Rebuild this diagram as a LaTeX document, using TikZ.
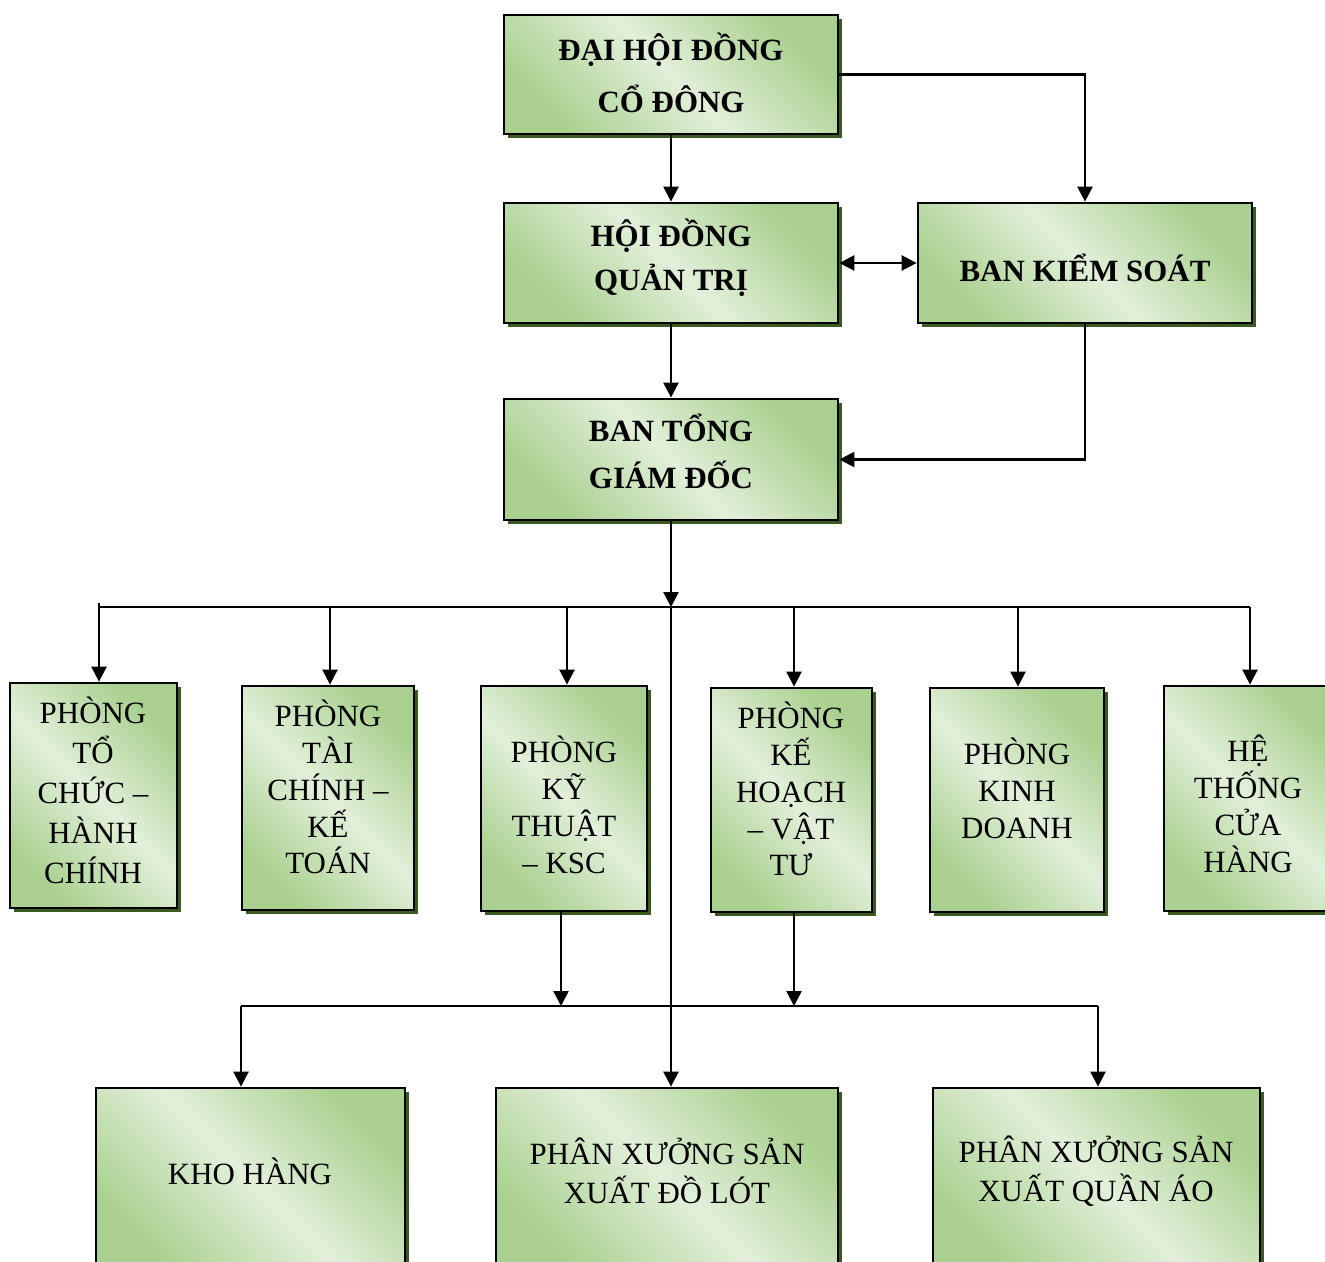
\documentclass[tikz,border=0pt]{standalone}
\usepackage{fontspec}
\setmainfont{Liberation Serif}
\usetikzlibrary{arrows.meta,shadows}
\definecolor{gdark}{HTML}{A9D08E}
\definecolor{glight}{HTML}{E2EFDA}
\definecolor{shgreen}{HTML}{3A5A22}
\tikzset{
  box/.style={rectangle, draw=black, line width=1.6pt, inner sep=0pt,
    top color=gdark, bottom color=gdark, middle color=glight, shading angle=-45,
    drop shadow={shadow xshift=0.08cm, shadow yshift=-0.08cm, fill=shgreen, opacity=1}},
  txt/.style={align=center, inner sep=0pt, font={\fontsize{17.6pt}{#1}\selectfont}},
  btxt/.style={align=center, inner sep=0pt, font={\fontsize{17.6pt}{#1}\selectfont\bfseries}},
  conn/.style={line width=0.9pt},
  arr/.style={line width=1.4pt, -{Triangle[length=0.3cm, width=0.3cm]}},
  arrb/.style={line width=1.4pt, {Triangle[length=0.3cm, width=0.3cm]}-{Triangle[length=0.3cm, width=0.3cm]}}
}
\begin{document}
\begin{tikzpicture}[x=0.02cm, y=-0.02cm]
\useasboundingbox (0,0) rectangle (1325,1261);
\clip (0,0) rectangle (1325,1261);
% top boxes
\node[box, minimum width=6.68cm, minimum height=2.38cm] (d1) at (671,74.5) {};
\node[box, minimum width=6.68cm, minimum height=2.4cm] (d2) at (671,263) {};
\node[box, minimum width=6.68cm, minimum height=2.4cm] (d3) at (1085,263) {};
\node[box, minimum width=6.68cm, minimum height=2.42cm] (d4) at (671,459.5) {};
% department row
\node[box, minimum width=3.34cm, minimum height=4.5cm] (r1) at (93.5,795.5) {};
\node[box, minimum width=3.44cm, minimum height=4.48cm] (r2) at (328,798) {};
\node[box, minimum width=3.32cm, minimum height=4.5cm] (r3) at (564,798.5) {};
\node[box, minimum width=3.22cm, minimum height=4.48cm] (r4) at (791.5,800) {};
\node[box, minimum width=3.48cm, minimum height=4.48cm] (r5) at (1017,800) {};
\node[box, minimum width=3.4cm, minimum height=4.5cm] (r6) at (1249,798.5) {};
% bottom row
\node[box, minimum width=6.18cm, minimum height=3.64cm] (b1) at (250.5,1179) {};
\node[box, minimum width=6.84cm, minimum height=3.64cm] (b2) at (667,1179) {};
\node[box, minimum width=6.54cm, minimum height=3.64cm] (b3) at (1096.5,1179) {};
% texts
\node[btxt=30pt] (t1) at (671,73) {ĐẠI HỘI ĐỒNG\\CỔ ĐÔNG};
\node[btxt=25pt] (t2) at (671,258) {HỘI ĐỒNG\\QUẢN TRỊ};
\node[btxt=25pt] (t3) at (1085,268) {BAN KIỂM SOÁT};
\node[btxt=26.7pt] (t4) at (671,451) {BAN TỔNG\\GIÁM ĐỐC};
\node[txt=22.8pt] (u1) at (93,790) {PHÒNG\\TỔ\\CHỨC –\\HÀNH\\CHÍNH};
\node[txt=21pt] (u2) at (328,787) {PHÒNG\\TÀI\\CHÍNH –\\KẾ\\TOÁN};
\node[txt=21pt] (u3) at (564,805) {PHÒNG\\KỸ\\THUẬT\\– KSC};
\node[txt=21pt] (u4) at (791,789) {PHÒNG\\KẾ\\HOẠCH\\– VẬT\\TƯ};
\node[txt=21pt] (u5) at (1017,788) {PHÒNG\\KINH\\DOANH};
\node[txt=21pt] (u6) at (1248,804) {HỆ\\THỐNG\\CỬA\\HÀNG};
\node[txt=22pt] (v1) at (250,1171) {KHO HÀNG};
\node[txt=22.2pt] (v2) at (667,1171) {PHÂN XƯỞNG SẢN\\XUẤT ĐỒ LÓT};
\node[txt=22.2pt] (v3) at (1096,1171) {PHÂN XƯỞNG SẢN\\XUẤT QUẦN ÁO};
% coordinates
\coordinate (bus) at (671,607);
\coordinate (busL) at (99,607);
\coordinate (busR) at (1250,607);
\coordinate (p1) at (99,603);
\coordinate (p2) at (330,607);
\coordinate (p3) at (567,607);
\coordinate (p4) at (794,607);
\coordinate (p5) at (1018,607);
\coordinate (q1) at (561,1006);
\coordinate (q2) at (794,1006);
\coordinate (qL) at (241,1006);
\coordinate (qR) at (1098,1006);
% connectors
\draw[arr] (d1.south) -- (d2.north);
\draw[arr] (d1.east) -| (d3.north);
\draw[arrb] (d2.east) -- (d3.west);
\draw[arr] (d2.south) -- (d4.north);
\draw[arr] (d3.south) |- (d4.east);
\draw[arr] (d4.south) -- (bus);
\draw[conn] (busL) -- (busR);
\draw[arr] (p1) -- (p1 |- r1.north);
\draw[arr] (p2) -- (p2 |- r2.north);
\draw[arr] (p3) -- (p3 |- r3.north);
\draw[arr] (p4) -- (p4 |- r4.north);
\draw[arr] (p5) -- (p5 |- r5.north);
\draw[arr] (busR) -- (busR |- r6.north);
\draw[arr] (bus) -- (bus |- b2.north);
\draw[arr] (q1 |- r3.south) -- (q1);
\draw[arr] (q2 |- r4.south) -- (q2);
\draw[conn] (qL) -- (qR);
\draw[arr] (qL) -- (qL |- b1.north);
\draw[arr] (qR) -- (qR |- b3.north);
\end{tikzpicture}
\end{document}
